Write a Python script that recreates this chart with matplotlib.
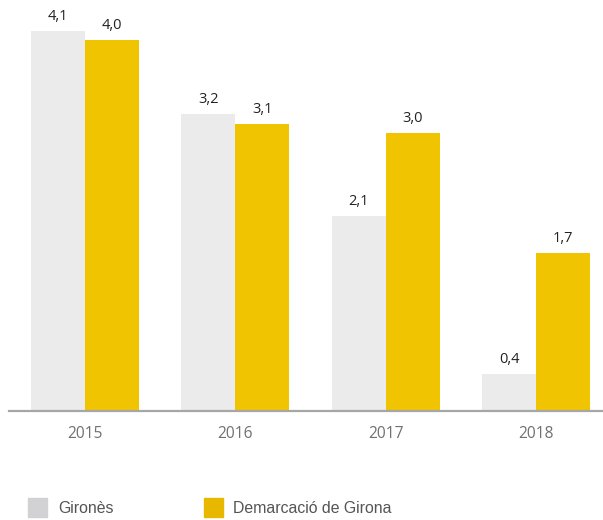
import matplotlib
matplotlib.use("Agg")
import matplotlib.pyplot as plt
from matplotlib.patches import Rectangle
import numpy as np

years = ["2015", "2016", "2017", "2018"]
girones = [4.1, 3.2, 2.1, 0.4]
demarcacio = [4.0, 3.1, 3.0, 1.7]
series_names = ["Gironès", "Demarcació de Girona"]

c_gray = "#ebebeb"
c_gray_leg = "#d2d2d4"
c_yellow = "#f0c400"
c_yellow_leg = "#e8b800"

fig = plt.figure(figsize=(6.03, 5.2), dpi=100)
ax = fig.add_axes([9/603, 109/520, 594/603, 411/520])

x = np.arange(len(years))
w = 0.36
b1 = ax.bar(x - w/2, girones, w, color=c_gray)
b2 = ax.bar(x + w/2, demarcacio, w, color=c_yellow)

def fmt(v):
    return f"{v:.1f}".replace(".", ",")

for bars, vals in ((b1, girones), (b2, demarcacio)):
    for r, v in zip(bars, vals):
        ax.annotate(fmt(v), (r.get_x() + r.get_width()/2, v), xytext=(0, 5),
                    textcoords="offset points", ha="center", va="bottom",
                    fontsize=10.5, color="#222222", family="Open Sans")

ax.set_xlim(-0.505, 3.445)
ax.set_ylim(0, 4.434)
for s in ["top", "right", "left"]:
    ax.spines[s].set_visible(False)
ax.spines["bottom"].set_color("#a6a6a6")
ax.spines["bottom"].set_linewidth(1.6)
ax.set_yticks([])
ax.set_xticks(x)
ax.set_xticklabels(years, fontsize=11.2, color="#707070", family="Open Sans")
ax.tick_params(axis="x", length=0, pad=11)

# legend
fig.patches.append(Rectangle((28/603, 3/520), 19/603, 19/520, transform=fig.transFigure, color=c_gray_leg))
fig.text(58/603, 11.5/520, series_names[0], fontsize=11.4, color="#555555", va="center", family="Liberation Sans")
fig.patches.append(Rectangle((204/603, 3/520), 19/603, 19/520, transform=fig.transFigure, color=c_yellow_leg))
fig.text(233/603, 11.5/520, series_names[1], fontsize=11.4, color="#555555", va="center", family="Liberation Sans")

fig.savefig("out.png", dpi=100)
